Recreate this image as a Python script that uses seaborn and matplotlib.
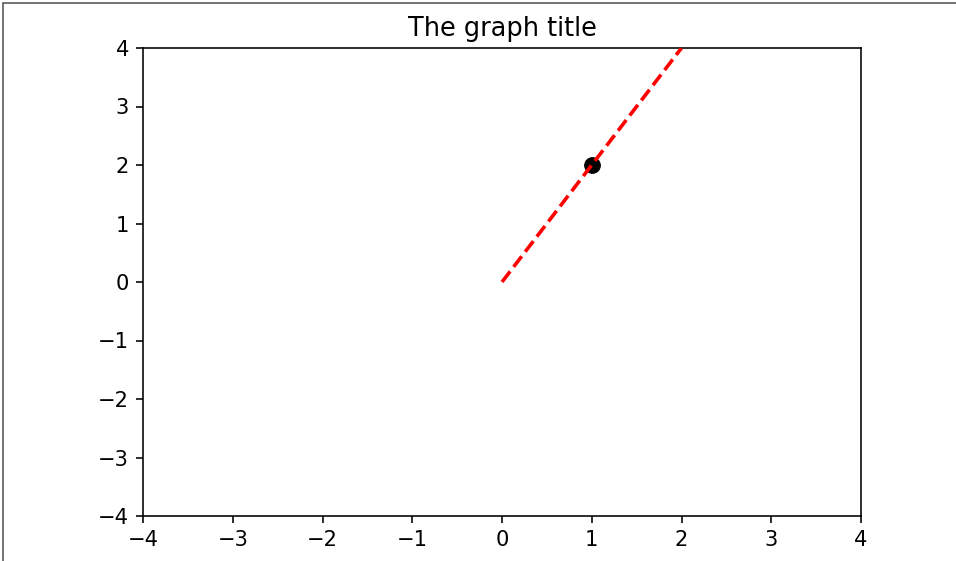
import matplotlib
matplotlib.use("Agg")
import matplotlib.pyplot as plt
import seaborn as sns
import pandas as pd
from matplotlib.patches import Rectangle

# line through the origin and the marked point
line_x = [0, 2]
line_y = [0, 4]
point_x = [1]
point_y = [2]
ticks = [-4, -3, -2, -1, 0, 1, 2, 3, 4]


def main() -> None:
    fig = plt.figure(figsize=(956 / 144, 561 / 144), dpi=144)
    ax = fig.add_axes([143 / 956, 1 - 516 / 561, (861 - 143) / 956, (516 - 48) / 561])

    pts = pd.DataFrame({"x": point_x, "y": point_y})
    sns.scatterplot(data=pts, x="x", y="y", s=60, color="black", edgecolor="black", ax=ax, zorder=2)
    ln = pd.DataFrame({"x": line_x, "y": line_y})
    sns.lineplot(data=ln, x="x", y="y", color="red", linestyle="--", linewidth=1.8, ax=ax, zorder=3)

    ax.set_xlim(-4, 4)
    ax.set_ylim(-4, 4)
    ax.set_xticks(ticks)
    ax.set_yticks(ticks)
    ax.tick_params(labelsize=10.5)
    ax.set_xlabel("")
    ax.set_ylabel("")
    ax.set_title("The graph title", fontsize=12.8)

    # thin grey frame round the picture
    fig.patches.append(Rectangle((2.5 / 956, -0.05), 1.2, 1 - 2.5 / 561 + 0.05,
                                 transform=fig.transFigure, fill=False,
                                 edgecolor="#555555", linewidth=0.8))
    fig.savefig("out.png", dpi=144)


if __name__ == "__main__":
    main()
